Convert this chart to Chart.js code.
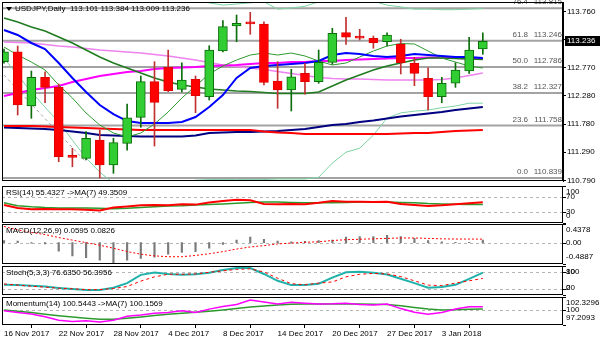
<!DOCTYPE html>
<html>
<head>
<meta charset="utf-8">
<script src="https://cdn.jsdelivr.net/npm/chart.js@4.4.1/dist/chart.umd.min.js"></script>
<style>
  html, body { margin: 0; padding: 0; background: #fff; }
  #wrap { position: relative; width: 600px; height: 343px; overflow: hidden; background: #fff; }
  #wrap canvas { position: absolute; left: 0; top: 0; }
</style>
</head>
<body>
<div id="wrap">
  <canvas id="cMain" width="600" height="343"></canvas>
  <canvas id="cRsi" width="600" height="343"></canvas>
  <canvas id="cMacd" width="600" height="343"></canvas>
  <canvas id="cStoch" width="600" height="343"></canvas>
  <canvas id="cMom" width="600" height="343"></canvas>
</div>
<script>
// ---------- daily bars ----------
const barDates = ['16 Nov 2017','17 Nov 2017','20 Nov 2017','21 Nov 2017','22 Nov 2017','23 Nov 2017','24 Nov 2017',
  '27 Nov 2017','28 Nov 2017','29 Nov 2017','30 Nov 2017','1 Dec 2017','4 Dec 2017','5 Dec 2017','6 Dec 2017',
  '7 Dec 2017','8 Dec 2017','11 Dec 2017','12 Dec 2017','13 Dec 2017','14 Dec 2017','15 Dec 2017','18 Dec 2017',
  '19 Dec 2017','20 Dec 2017','21 Dec 2017','22 Dec 2017','26 Dec 2017','27 Dec 2017','28 Dec 2017','29 Dec 2017',
  '2 Jan 2018','3 Jan 2018','4 Jan 2018','5 Jan 2018','8 Jan 2018'];
const open  = [112.878,113.053,112.100,112.604,112.428,111.220,111.183,111.504,111.065,111.446,111.902,112.527,
  112.779,112.393,112.569,112.264,113.065,113.504,113.560,113.539,112.539,112.381,112.674,112.527,112.867,113.387,
  113.300,113.288,113.228,113.188,112.849,112.586,112.264,112.499,112.714,113.101];
const high  = [113.100,113.153,112.714,112.702,112.486,111.358,111.650,111.679,111.534,112.135,112.627,112.878,
  113.083,112.860,112.627,113.158,113.597,113.697,113.744,113.579,112.878,112.744,112.849,113.083,113.464,113.657,
  113.446,113.328,113.386,113.271,112.955,112.772,112.604,112.860,113.306,113.384];
const low   = [112.850,111.942,111.885,112.158,111.123,111.035,111.153,110.839,110.920,111.328,111.727,111.399,
  112.351,112.346,111.983,112.206,113.050,113.228,113.358,112.469,112.060,112.013,112.306,112.499,112.832,113.183,
  113.258,113.113,113.153,112.662,112.457,112.030,112.158,112.428,112.674,113.009];
const close = [113.053,112.118,112.604,112.428,111.211,111.200,111.534,111.065,111.457,111.895,112.527,112.165,
  112.369,112.557,112.281,113.083,113.492,113.551,113.540,112.516,112.381,112.614,112.527,112.867,113.376,113.306,
  113.290,113.211,113.346,112.860,112.674,112.264,112.499,112.732,113.083,113.236];

// ---------- price overlays ----------
const maBlue = [113.434,113.346,113.206,113.100,112.855,112.592,112.346,112.118,111.960,111.837,111.802,111.802,
  111.802,111.820,111.907,112.083,112.293,112.592,112.767,112.802,112.820,112.837,112.855,112.890,112.995,113.030,
  113.013,112.978,112.960,112.978,113.013,112.995,112.978,112.960,112.960,112.943];
const maMagenta = [112.276,112.328,112.381,112.416,112.451,112.521,112.574,112.627,112.662,112.697,112.714,112.749,
  112.767,112.776,112.785,112.802,112.811,112.820,112.837,112.855,112.855,112.872,112.872,112.890,112.890,112.907,
  112.916,112.925,112.934,112.942,112.942,112.951,112.951,112.942,112.934,112.925];
const maViolet = [113.223,113.214,113.206,113.179,113.153,113.135,113.109,113.083,113.065,113.048,113.030,113.004,
  112.978,112.942,112.907,112.864,112.820,112.793,112.767,112.741,112.706,112.671,112.635,112.600,112.583,112.574,
  112.574,112.565,112.557,112.557,112.557,112.557,112.565,112.592,112.635,112.679];
const maGreen = [113.644,113.574,113.486,113.416,113.311,113.206,113.083,112.960,112.855,112.767,112.679,112.592,
  112.521,112.469,112.434,112.399,112.381,112.363,112.355,112.337,112.320,112.320,112.320,112.346,112.451,112.557,
  112.644,112.732,112.802,112.855,112.907,112.942,112.942,112.934,112.925,112.916];
const maGreenFast = [113.135,112.995,112.872,112.732,112.469,112.241,111.977,111.767,111.627,111.557,111.627,111.785,
  111.995,112.241,112.451,112.662,112.802,112.907,112.995,113.030,112.995,113.030,112.978,112.890,112.820,112.855,
  112.960,113.065,113.153,113.197,113.188,113.065,112.942,112.872,112.802,112.767];
const maNavy = [111.723,111.714,111.706,111.697,111.679,111.653,111.627,111.592,111.583,111.574,111.565,111.565,
  111.565,111.565,111.583,111.627,111.635,111.644,111.644,111.653,111.662,111.679,111.697,111.732,111.767,111.785,
  111.820,111.846,111.881,111.916,111.942,111.969,111.995,112.030,112.057,112.083];
const maRed = [111.749,111.749,111.749,111.741,111.732,111.723,111.714,111.706,111.697,111.688,111.679,111.679,
  111.679,111.679,111.679,111.679,111.679,111.679,111.679,111.653,111.635,111.627,111.609,111.609,111.609,111.609,
  111.609,111.609,111.609,111.618,111.627,111.627,111.644,111.662,111.670,111.679];
const bandUpper = [114.60,114.55,114.50,114.45,114.40,114.35,114.30,114.25,114.20,114.15,114.10,114.06,114.03,114.00,
  113.96,113.91,113.87,113.89,113.91,113.93,113.80,113.82,113.85,113.93,114.00,114.06,114.04,113.94,113.87,113.84,
  113.80,113.80,113.79,113.79,113.80,113.81];
const bandLower = [112.94,112.64,112.35,112.08,111.82,111.50,111.19,110.94,110.75,110.60,110.55,110.60,110.70,110.76,
  110.80,110.81,110.81,110.81,110.81,110.81,110.82,110.82,110.82,110.85,111.10,111.29,111.36,111.59,111.89,111.98,
  112.01,112.03,112.07,112.10,112.15,112.15];
const trendBars = [0, 6];
const trendPrices = [112.643, 111.115];

// Fibonacci retracement levels
const fibPct = ['76.4', '61.8', '50.0', '38.2', '23.6', '0.0'];
const fibPrice = [113.815, 113.246, 112.786, 112.327, 111.758, 110.839];

// axis ticks
const priceTicks = [110.790, 111.290, 111.780, 112.280, 112.770, 113.270, 113.760];
const dateTickBars = [0, 4, 8, 12, 16, 20, 24, 28, 32];

// ---------- oscillators ----------
const rsi = [48,40,36,37,36,36,35,33,41,44,47,48,47,50,49,55,59,62,61,51,50,51,50,54,59,57,57,56,57,51,48,45,47,50,53,55.4327];
const rsiMa = [54,46,43,41,40,40,40,39,38,39,41,43,45,46,48,49,51,53,55,56,56,55,54,54,54,55,56,56,56,55,54,52,51,50,49.5,49.3509];
const macdMain = [0.05,0.04,-0.01,-0.03,-0.20,-0.31,-0.35,-0.41,-0.4887,-0.41,-0.37,-0.34,-0.27,-0.23,-0.21,-0.13,-0.04,
  0.06,0.13,0.08,0.04,0.02,0.03,0.05,0.06,0.13,0.14,0.14,0.17,0.14,0.10,0.05,0.02,0.01,0.005,0.0595];
const macdSignal = [0.38,0.30,0.24,0.19,0.12,0.06,0.0,-0.06,-0.13,-0.21,-0.27,-0.31,-0.33,-0.33,-0.30,-0.26,-0.21,-0.15,
  -0.10,-0.07,-0.03,-0.01,0.01,0.02,0.05,0.07,0.08,0.09,0.10,0.11,0.11,0.10,0.09,0.085,0.085,0.0826];
const stochMain = [34,33,31,28,23,19,16,16,24,40,69,77,72,69,71,76,86,93,93,72,48,33,33,38,59,78,80,76,70,55,40,24,26,34,55,76.635];
const stochSignal = [37,33,29,26,22,20,17,17,21,28,47,62,71,71,72,78,83,88,90,79,57,38,34,40,44,62,71,74,72,63,48,33,31,40,48,56.3956];
const mom = [99.80,99.50,99.22,98.72,98.07,97.83,97.97,97.75,98.07,98.81,99.05,99.37,99.50,99.80,99.50,100.11,100.58,
  100.95,101.79,101.42,101.05,101.36,101.18,101.05,101.08,101.18,100.95,100.86,101.05,100.21,99.56,99.18,99.50,100.12,
  100.54,100.5443];
const momMa = [99.93,99.74,99.50,99.19,98.91,98.66,98.44,98.25,98.25,98.44,98.68,98.94,99.19,99.37,99.56,99.74,99.97,
  100.21,100.49,100.67,100.86,100.99,101.05,101.05,101.05,101.05,101.05,101.01,100.95,100.71,100.39,100.12,99.93,100.02,
  100.08,100.1569];

// ---------- drawing setup ----------
const FONT = "'Liberation Sans', Arial, sans-serif";
const FS = 8;
Chart.defaults.font.family = FONT;
Chart.defaults.font.size = FS;
Chart.defaults.color = '#000';
Chart.defaults.animation = false;
Chart.defaults.responsive = false;
Chart.defaults.events = [];
Chart.defaults.plugins.legend.display = false;
Chart.defaults.plugins.tooltip.enabled = false;

const last = close.length - 1;
const X_MIN = -0.146, X_MAX = 40.86;   // visible bar window incl. right margin
const AXIS_W = 37;

const pts = arr => arr.map((v, i) => ({ x: i, y: v }));
const lineDs = (arr, color, width, order, extra) => Object.assign({
  type: 'line', data: pts(arr), borderColor: color, borderWidth: width, pointRadius: 0,
  tension: 0, fill: false, clip: 0, order: order
}, extra || {});

const xScale = show => ({
  type: 'linear', min: X_MIN, max: X_MAX, offset: false, display: show,
  grid: { display: show, drawOnChartArea: false, drawTicks: true, tickLength: 3, color: '#000' },
  border: { display: false },
  ticks: { autoSkip: false, maxRotation: 0, align: 'start', padding: 1, color: '#000',
           callback: v => barDates[v] || '' },
  afterBuildTicks: axis => { axis.ticks = dateTickBars.map(v => ({ value: v })); },
  afterFit: axis => {
    axis.height = show ? 18 : 0;
    axis.paddingLeft = 0; axis.paddingRight = 0;
  }
});

const fmt = (v, d) => v.toFixed(d);

// frame, titles, level lines and side labels of each pane
const panePlugin = {
  id: 'pane',
  beforeDatasetsDraw(chart, args, o) {
    const { ctx, chartArea: a } = chart;
    const y = chart.scales.y;
    ctx.save();
    (o.levels || []).forEach(v => {
      const py = Math.round(y.getPixelForValue(v)) + 0.5;
      ctx.strokeStyle = '#b4b4b4'; ctx.lineWidth = 1; ctx.setLineDash([3, 3]);
      ctx.beginPath(); ctx.moveTo(a.left, py); ctx.lineTo(a.right, py); ctx.stroke();
    });
    ctx.setLineDash([]);
    if (o.fib) {
      fibPrice.forEach(p => {
        const py = y.getPixelForValue(p);
        ctx.strokeStyle = '#a3a3a3'; ctx.lineWidth = 2;
        ctx.beginPath(); ctx.moveTo(a.left, py); ctx.lineTo(a.right, py); ctx.stroke();
      });
    }
    ctx.restore();
  },
  afterDatasetsDraw(chart, args, o) {
    const { ctx, chartArea: a } = chart;
    const y = chart.scales.y;
    ctx.save();
    ctx.font = FS + 'px ' + FONT;
    ctx.textBaseline = 'middle';
    if (o.fib) {
      ctx.fillStyle = '#555';
      fibPrice.forEach((p, i) => {
        const py = y.getPixelForValue(p) - 6;
        ctx.textAlign = 'right';
        ctx.fillText(fibPct[i], a.right - 35, py);
        ctx.fillText(fmt(p, 3), a.right - 1, py);
      });
    }
    // pane frame
    ctx.strokeStyle = '#000'; ctx.lineWidth = 1;
    ctx.strokeRect(Math.round(a.left) + 0.5, Math.round(a.top) + 0.5,
                   Math.round(a.right - a.left) - 1, Math.round(a.bottom - a.top) - 1);
    // title
    ctx.fillStyle = '#000'; ctx.textAlign = 'left';
    let tx = a.left + 4;
    if (o.marker) {
      ctx.beginPath(); ctx.moveTo(a.left + 4, a.top + 5); ctx.lineTo(a.left + 10, a.top + 5);
      ctx.lineTo(a.left + 7, a.top + 9); ctx.closePath(); ctx.fill();
      tx = a.left + 13;
    }
    if (o.title) ctx.fillText(o.title, tx, a.top + 7);
    // side labels, kept inside the pane height
    (o.sideLabels || []).forEach(([v, t]) => {
      const raw = y.getPixelForValue(v);
      const py = Math.min(Math.max(raw, a.top + 5.5), a.bottom - 7);
      ctx.fillText(t, a.right + 3, py);
      ctx.beginPath(); ctx.moveTo(a.right, Math.round(raw) + 0.5); ctx.lineTo(a.right + 3, Math.round(raw) + 0.5); ctx.stroke();
    });
    // last price tag
    if (o.priceTag !== undefined) {
      const py = y.getPixelForValue(o.priceTag);
      ctx.fillStyle = '#000';
      ctx.fillRect(a.right + 2, Math.round(py) - 5, 600 - a.right - 2, 10);
      ctx.fillStyle = '#fff'; ctx.textAlign = 'left';
      ctx.fillText(fmt(o.priceTag, 3), a.right + 4, py);
    }
    ctx.restore();
  }
};

const up = close.map((c, i) => c >= open[i]);

// ---------- main price pane ----------
new Chart(document.getElementById('cMain'), {
  type: 'bar',
  data: { datasets: [
    { type: 'bar', data: open.map((o, i) => ({ x: i, y: [o, close[i]] })),
      backgroundColor: up.map(u => u ? '#32CD32' : '#FF0000'),
      borderColor: up.map(u => u ? '#0B6E0B' : '#E00000'),
      borderWidth: 1, borderSkipped: false, barThickness: 9, minBarLength: 2, grouped: false, order: 1 },
    { type: 'bar', data: low.map((l, i) => ({ x: i, y: [l, high[i]] })),
      backgroundColor: up.map(u => u ? '#0B6E0B' : '#C03030'),
      barThickness: 1, grouped: false, order: 2 },
    lineDs(maBlue, '#0000FF', 2, 3),
    lineDs(maGreenFast, '#2E9A2E', 1, 4),
    lineDs(maGreen, '#1E7B1E', 1.5, 5),
    lineDs(maMagenta, '#FF00FF', 2, 6),
    lineDs(maViolet, '#EE82EE', 1.5, 7),
    lineDs(maRed, '#FF0000', 2, 8),
    lineDs(maNavy, '#000080', 2, 9),
    lineDs(bandUpper, '#7FD3A4', 1, 10),
    lineDs(bandLower, '#7FD3A4', 1, 11),
    { type: 'line', data: trendBars.map((b, i) => ({ x: b, y: trendPrices[i] })),
      borderColor: '#A0A0A0', borderWidth: 1, borderDash: [3, 3], pointRadius: 0, clip: 0, order: 12 }
  ]},
  options: {
    layout: { padding: { left: 2, right: 0, top: 2, bottom: 343 - 181 } },
    scales: {
      x: xScale(false),
      y: {
        position: 'right', min: 110.785, max: 113.925,
        grid: { drawOnChartArea: false, drawTicks: true, tickLength: 3, color: '#000' },
        border: { display: true, color: '#000' },
        ticks: { padding: 1, color: '#000', autoSkip: false, callback: v => v.toFixed(3) },
        afterBuildTicks: axis => { axis.ticks = priceTicks.map(v => ({ value: v })); },
        afterFit: axis => { axis.width = AXIS_W; axis.paddingTop = 0; axis.paddingBottom = 0; }
      }
    },
    plugins: { pane: {
      fib: true, marker: true, priceTag: close[last],
      title: 'USDJPY,Daily  ' + [open[last], high[last], low[last], close[last]].map(v => fmt(v, 3)).join(' ')
    } }
  },
  plugins: [panePlugin]
});

// ---------- oscillator panes ----------
function subPane(id, top, bottom, min, max, datasets, paneOpts, showX) {
  return new Chart(document.getElementById(id), {
    type: 'bar',
    data: { datasets },
    options: {
      layout: { padding: { left: 2, right: AXIS_W, top: top, bottom: showX ? 0 : 343 - bottom } },
      scales: {
        x: xScale(showX),
        y: { display: false, min: min, max: max }
      },
      plugins: { pane: paneOpts }
    },
    plugins: [panePlugin]
  });
}

subPane('cRsi', 186, 222.5, 0, 100, [
  lineDs(rsi, '#FF0000', 2, 1),
  lineDs(rsiMa, '#2E9A2E', 1.5, 2)
], {
  title: 'RSI(14) ' + fmt(rsi[last], 4) + ' ->MA(7) ' + fmt(rsiMa[last], 4),
  levels: [70, 30],
  sideLabels: [[100, '100'], [70, '70'], [30, '30'], [0, '0']]
}, false);

subPane('cMacd', 224, 263.5, -0.4887, 0.4378, [
  lineDs(macdSignal, '#FF0000', 1, 1, { borderDash: [2, 2] }),
  { type: 'bar', data: pts(macdMain), backgroundColor: '#7A7A7A', barThickness: 1.5, grouped: false, order: 2 }
], {
  title: 'MACD(12,26,9) ' + fmt(macdMain[last], 4) + ' ' + fmt(macdSignal[last], 4),
  levels: [0],
  sideLabels: [[0.4378, '0.4378'], [0, '0.00'], [-0.4887, '-0.4887']]
}, false);

subPane('cStoch', 266, 294.5, 0, 100, [
  lineDs(stochSignal, '#FF0000', 1, 1, { borderDash: [3, 3] }),
  lineDs(stochMain, '#20B2AA', 2, 2)
], {
  title: 'Stoch(5,3,3) ' + fmt(stochMain[last], 4) + ' ' + fmt(stochSignal[last], 4),
  levels: [80, 20],
  sideLabels: [[100, '100'], [80, '80'], [20, '20'], [0, '0']]
}, false);

subPane('cMom', 297, 325, 97.2093, 102.3296, [
  lineDs(momMa, '#2E9A2E', 1.5, 2),
  lineDs(mom, '#FF00FF', 1.5, 1)
], {
  title: 'Momentum(14) ' + fmt(mom[last], 4) + ' ->MA(7) ' + fmt(momMa[last], 4),
  levels: [100],
  sideLabels: [[102.3296, '102.3296'], [100, '100'], [97.2093, '97.2093']]
}, true);
</script>
</body>
</html>
